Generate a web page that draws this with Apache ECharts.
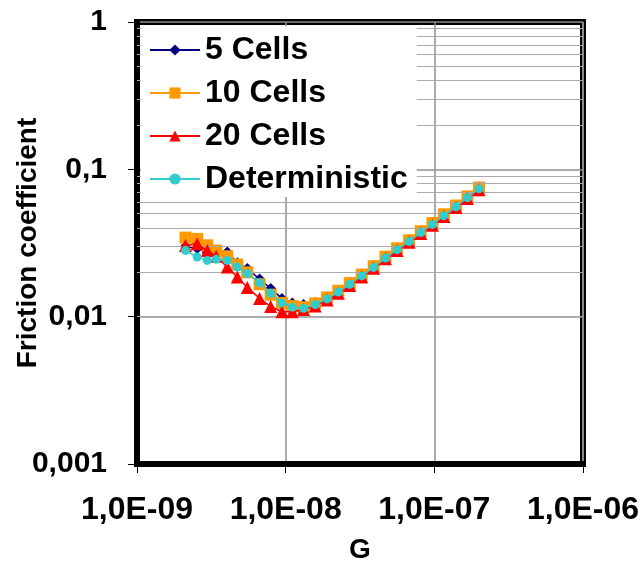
<!DOCTYPE html>
<html>
<head>
<meta charset="utf-8">
<script src="https://cdn.jsdelivr.net/npm/echarts@6.0.0/dist/echarts.min.js"></script>
<style>
  html, body { margin: 0; padding: 0; background: #fff; }
  #chart { width: 642px; height: 563px; }
</style>
</head>
<body>
<div id="chart"></div>
<script>
// G values (x axis, log)
var gValues = [2.12e-9, 2.54e-9, 2.97e-9, 3.41e-9, 4.05e-9, 4.73e-9, 5.52e-9, 6.68e-9, 7.93e-9, 9.44e-9,
    1.11e-8, 1.32e-8, 1.58e-8, 1.90e-8, 2.26e-8, 2.70e-8, 3.25e-8, 3.91e-8, 4.69e-8, 5.62e-8,
    6.77e-8, 8.11e-8, 9.72e-8, 1.16e-7, 1.40e-7, 1.67e-7, 2.00e-7];
// friction coefficient per series
var cells5 = [0.0300, 0.0290, 0.0272, 0.0262, 0.0275, 0.0232, 0.0212, 0.0180, 0.0155, 0.0133,
    0.0124, 0.0121, 0.0125, 0.0136, 0.0151, 0.0170, 0.0194, 0.0222, 0.0257, 0.0293,
    0.0333, 0.0383, 0.0435, 0.0498, 0.0572, 0.0660, 0.0758];
var cells10 = [0.0344, 0.0337, 0.0305, 0.0281, 0.0257, 0.0226, 0.0200, 0.0166, 0.0141, 0.0124,
    0.0118, 0.0116, 0.0123, 0.0135, 0.0150, 0.0169, 0.0193, 0.0220, 0.0255, 0.0291,
    0.0330, 0.0380, 0.0432, 0.0495, 0.0568, 0.0655, 0.0752];
var cells20 = [0.0304, 0.0312, 0.0281, 0.0257, 0.0217, 0.0186, 0.0158, 0.0133, 0.0117, 0.0108,
    0.0108, 0.0112, 0.0118, 0.0130, 0.0144, 0.0163, 0.0186, 0.0213, 0.0247, 0.0281,
    0.0320, 0.0367, 0.0418, 0.0479, 0.0550, 0.0635, 0.0728];
var deterministic = [0.0281, 0.0254, 0.0241, 0.0245, 0.0241, 0.0217, 0.0196, 0.0170, 0.0144, 0.0124,
    0.0116, 0.0114, 0.0121, 0.0132, 0.0147, 0.0166, 0.0189, 0.0216, 0.0250, 0.0285,
    0.0324, 0.0372, 0.0423, 0.0485, 0.0557, 0.0642, 0.0738];

// tick labels
var xDecades = [1e-9, 1e-8, 1e-7, 1e-6];
var xTickLabels = ['1,0E-09', '1,0E-08', '1,0E-07', '1,0E-06'];
var yDecades = [0.001, 0.01, 0.1, 1];
var yTickLabels = ['0,001', '0,01', '0,1', '1'];
var minorSteps = [2, 3, 4, 5, 6, 7, 8, 9];

var seriesNames = ['5 Cells', '10 Cells', '20 Cells', 'Deterministic'];

function pairs(ys) {
    return gValues.map(function (g, i) { return [g, ys[i]]; });
}

// minor grid lines (2..9 in each decade)
var minorLines = [];
xDecades.slice(0, 3).forEach(function (d) {
    minorSteps.forEach(function (m) { minorLines.push({ xAxis: d * m }); });
});
yDecades.slice(0, 3).forEach(function (d) {
    minorSteps.forEach(function (m) { minorLines.push({ yAxis: d * m }); });
});

function labelOf(decades, labels, v) {
    for (var i = 0; i < decades.length; i++) {
        if (Math.abs(Math.log10(v) - Math.log10(decades[i])) < 1e-6) return labels[i];
    }
    return '';
}

var myChart = echarts.init(document.getElementById('chart'));
var font = 'Liberation Sans, Arial, sans-serif';

var option = {
    backgroundColor: '#fff',
    animation: false,
    grid: {
        left: 137, right: 59, top: 22, bottom: 99,
        outerBoundsMode: 'none',
        containLabel: false,
        show: true,
        borderColor: '#000',
        borderWidth: 6,
        backgroundColor: '#fff'
    },
    legend: {
        data: seriesNames,
        orient: 'vertical',
        left: 141,
        top: 26,
        z: 100,
        padding: [8, 9, 2, 8],
        itemGap: 11,
        itemWidth: 50,
        itemHeight: 14,
        backgroundColor: '#fff',
        textStyle: { fontFamily: font, fontWeight: 'bold', fontSize: 32, color: '#000' }
    },
    xAxis: {
        type: 'log',
        logBase: 10,
        min: 1e-9,
        max: 1e-6,
        name: 'G',
        nameLocation: 'middle',
        nameGap: 72,
        nameMoveOverlap: false,
        nameTextStyle: { fontFamily: font, fontWeight: 'bold', fontSize: 28, color: '#000' },
        axisLine: { show: true, lineStyle: { color: '#000', width: 6 } },
        axisTick: { show: true, length: 9, lineStyle: { color: '#000', width: 1 } },
        axisLabel: {
            margin: 30,
            fontFamily: font, fontWeight: 'bold', fontSize: 32, color: '#000',
            formatter: function (v) { return labelOf(xDecades, xTickLabels, v); }
        },
        splitLine: { show: true, lineStyle: { color: '#909090', width: 1.5 } }
    },
    yAxis: {
        type: 'log',
        logBase: 10,
        min: 0.001,
        max: 1,
        name: 'Friction coefficient',
        nameLocation: 'middle',
        nameRotate: 90,
        nameGap: 95,
        nameMoveOverlap: false,
        nameTextStyle: { fontFamily: font, fontWeight: 'bold', fontSize: 28, color: '#000' },
        axisLine: { show: true, lineStyle: { color: '#000', width: 6 } },
        axisTick: { show: true, length: 9, lineStyle: { color: '#000', width: 1 } },
        axisLabel: {
            margin: 30,
            fontFamily: font, fontWeight: 'bold', fontSize: 30, color: '#000',
            formatter: function (v) { return labelOf(yDecades, yTickLabels, v); }
        },
        splitLine: { show: true, lineStyle: { color: '#909090', width: 1.5 } }
    },
    series: [
        {
            name: 'grid-minor',
            type: 'line',
            data: [],
            z: 1,
            silent: true,
            markLine: {
                silent: true,
                symbol: 'none',
                label: { show: false },
                lineStyle: { color: '#aaa', width: 1.2, type: 'solid' },
                data: minorLines
            }
        },
        {
            name: seriesNames[0],
            type: 'line',
            data: pairs(cells5),
            symbol: 'diamond',
            symbolSize: 11,
            color: '#000080',
            lineStyle: { width: 1.5 },
            z: 3
        },
        {
            name: seriesNames[1],
            type: 'line',
            data: pairs(cells10),
            symbol: 'rect',
            symbolSize: 12,
            color: '#FF9900',
            lineStyle: { width: 1.5 },
            z: 4
        },
        {
            name: seriesNames[2],
            type: 'line',
            data: pairs(cells20),
            symbol: 'triangle',
            symbolSize: 13,
            color: '#FF0000',
            lineStyle: { width: 1.5 },
            z: 5
        },
        {
            name: seriesNames[3],
            type: 'line',
            data: pairs(deterministic),
            symbol: 'circle',
            symbolSize: 9,
            color: '#33CCCC',
            lineStyle: { width: 1.5 },
            z: 6
        }
    ]
};
myChart.setOption(option);
</script>
</body>
</html>
